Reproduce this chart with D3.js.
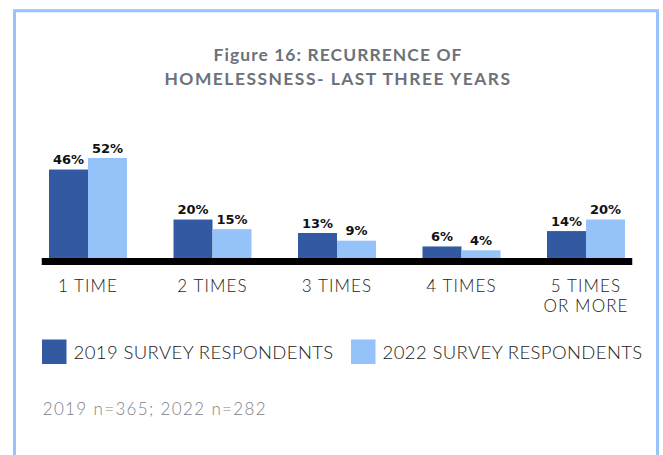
<!DOCTYPE html>
<html>
<head>
<meta charset="utf-8">
<script src="https://cdn.jsdelivr.net/npm/d3@7"></script>
<style>
  html, body { margin: 0; padding: 0; background: #fff; }
  svg { display: block; }
</style>
</head>
<body>
<svg id="chart" width="663" height="455"></svg>
<script>
// ---- data ----
const categories = ["1 TIME", "2 TIMES", "3 TIMES", "4 TIMES", "5 TIMES OR MORE"];
const categoryLines = [["1 TIME"], ["2 TIMES"], ["3 TIMES"], ["4 TIMES"], ["5 TIMES", "OR MORE"]];
const seriesNames = ["2019 SURVEY RESPONDENTS", "2022 SURVEY RESPONDENTS"];
const values2019 = [46, 20, 13, 6, 14];
const values2022 = [52, 15, 9, 4, 20];
const titleLines = ["Figure 16: RECURRENCE OF", "HOMELESSNESS- LAST THREE YEARS"];
const footnote = "2019 n=365; 2022 n=282";
const seriesKeys = ["y2019", "y2022"];
const colors = ["#3359a2", "#95c3f9"];

const rows = categories.map((c, i) => ({ cat: c, lines: categoryLines[i], y2019: values2019[i], y2022: values2022[i] }));

const svg = d3.select("#chart");

// frame
svg.append("path")
  .attr("d", "M14.5,460 V10.8 H657.5 V460")
  .attr("fill", "none")
  .attr("stroke", "#99c4fb")
  .attr("stroke-width", 3);

// title
const titleSpacing = [1.1, 1.5];
svg.append("g").selectAll("text").data(titleLines).join("text")
  .attr("x", 338)
  .attr("y", (d, i) => 60.5 + i * 24.5)
  .attr("text-anchor", "middle")
  .attr("font-family", "Lato, 'Open Sans', sans-serif")
  .attr("font-weight", 700)
  .attr("font-size", 17.4)
  .attr("letter-spacing", (d, i) => titleSpacing[i])
  .attr("fill", "#6c717a")
  .text(d => d);

// scales
const baseY = 258;
const x0 = d3.scaleBand().domain(categories).range([25.75, 648.25]).padding(0);
const x1 = d3.scaleBand().domain(seriesKeys).range([x0.bandwidth() / 2 - 39, x0.bandwidth() / 2 + 39]).padding(0);
const y = d3.scaleLinear().domain([0, 52]).range([baseY, 158]);

// bars
const groups = svg.append("g").selectAll("g").data(rows).join("g")
  .attr("transform", d => `translate(${x0(d.cat)},0)`);

groups.selectAll("rect").data(d => seriesKeys.map((k, j) => ({ k, v: d[k], j }))).join("rect")
  .attr("x", d => x1(d.k))
  .attr("y", d => y(d.v))
  .attr("width", x1.bandwidth())
  .attr("height", d => y(0) - y(d.v))
  .attr("fill", d => colors[d.j]);

groups.selectAll("text.val").data(d => seriesKeys.map((k, j) => ({ k, v: d[k], j }))).join("text")
  .attr("class", "val")
  .attr("x", d => x1(d.k) + x1.bandwidth() / 2)
  .attr("y", d => y(d.v) - 5.5)
  .attr("text-anchor", "middle")
  .attr("font-family", "'DejaVu Sans', sans-serif")
  .attr("font-weight", 700)
  .attr("font-size", 13)
  .attr("fill", "#111")
  .text(d => d.v + "%");

// axis
const axis = svg.append("g")
  .attr("transform", `translate(0,${baseY})`)
  .call(d3.axisBottom(x0).tickSize(0));
axis.select(".domain").remove();
axis.selectAll(".tick text").each(function(c) {
  const t = d3.select(this);
  const lines = categoryLines[categories.indexOf(c)];
  t.text(null)
    .attr("y", 34)
    .attr("dy", null)
    .attr("font-family", "Lato, sans-serif")
    .attr("font-weight", 300)
    .attr("font-size", 17)
    .attr("letter-spacing", 1.1)
    .attr("fill", "#1a1a1a");
  lines.forEach((ln, i) => {
    t.append("tspan").attr("x", 0).attr("y", 34 + i * 19.5).text(ln);
  });
});

const [r0, r1] = x0.range();
svg.append("rect")
  .attr("x", r0 + 16)
  .attr("y", baseY)
  .attr("width", (r1 - 16) - (r0 + 16))
  .attr("height", 7)
  .attr("fill", "#000");

// legend
const legendX = [42, 351];
const leg = svg.append("g").selectAll("g").data(seriesNames).join("g")
  .attr("transform", (d, i) => `translate(${legendX[i]},339.5)`);
leg.append("rect").attr("width", 24.5).attr("height", 24.5).attr("fill", (d, i) => colors[i]);
leg.append("text")
  .attr("x", 31.5)
  .attr("y", 19.8)
  .attr("font-family", "Lato, sans-serif")
  .attr("font-weight", 300)
  .attr("font-size", 18.5)
  .attr("letter-spacing", 0.4)
  .attr("fill", "#1a1a1a")
  .text(d => d);

// footnote
svg.append("text")
  .attr("x", 42.7)
  .attr("y", 415)
  .attr("font-family", "Lato, sans-serif")
  .attr("font-weight", 300)
  .attr("font-size", 17)
  .attr("letter-spacing", 1.35)
  .attr("fill", "#7e8188")
  .text(footnote);
</script>
</body>
</html>
